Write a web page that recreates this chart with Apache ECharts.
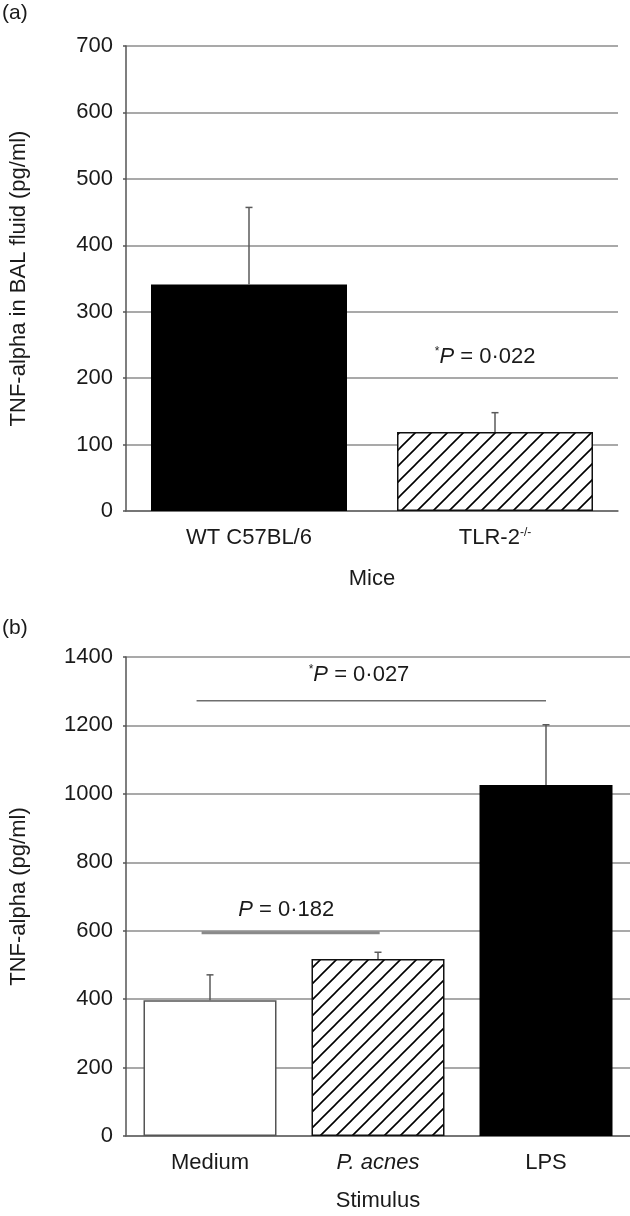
<!DOCTYPE html>
<html><head><meta charset="utf-8">
<script src="https://cdn.jsdelivr.net/npm/echarts@6/dist/echarts.min.js"></script>
<style>html,body{margin:0;padding:0;background:#fff}#c{width:630px;height:1216px}</style>
</head><body><div id="c"></div>
<script>
// ---------- data ----------
const catsA = ['WT C57BL/6', 'TLR-2-/-'];
const meansA = [341, 119];
const errsA = [116, 29];
const yTicksA = [0, 100, 200, 300, 400, 500, 600, 700];

const catsB = ['Medium', 'P. acnes', 'LPS'];
const meansB = [397, 517, 1026];
const errsB = [74, 20, 176];
const yTicksB = [0, 200, 400, 600, 800, 1000, 1200, 1400];

const sigTextA = ['*P = 0·022'];
const sigPosA = [[0.96, 232]];            // [category position, value]

const sigTextB = ['*P = 0·027', 'P = 0·182'];
const sigPosB = [[0.887, 1347], [0.454, 662]];
const sigLineB = [[-0.08, 2.0, 1272], [-0.05, 1.01, 594]]; // [from cat, to cat, value]

// ---------- styles ----------
const FONT = '"Liberation Sans", Arial, Helvetica, sans-serif';
const FS = 22;
const TXT = '#1a1a1a';
function hatch() {
  const s = 16, c = document.createElement('canvas');
  c.width = s; c.height = s;
  const g = c.getContext('2d');
  g.fillStyle = '#fff'; g.fillRect(0, 0, s, s);
  g.strokeStyle = '#000'; g.lineWidth = 1.6; g.beginPath();
  g.moveTo(-2, s + 2); g.lineTo(s + 2, -2);
  g.moveTo(-2, 2); g.lineTo(2, -2);
  g.moveTo(s - 2, s + 2); g.lineTo(s + 2, s - 2);
  g.stroke();
  return c;
}
const H = hatch();
const styleSolid = { color: '#000', borderColor: '#000', borderWidth: 0 };
const styleHatch = { color: { image: H, repeat: 'repeat' }, borderColor: '#111', borderWidth: 1.5 };
const styleWhite = { color: '#fff', borderColor: '#555', borderWidth: 1.5 };
const barStylesA = [styleSolid, styleHatch];
const barStylesB = [styleWhite, styleHatch, styleSolid];

const rich = {
  sup: { fontSize: 12, fontFamily: FONT, color: TXT, verticalAlign: 'top', lineHeight: 12, padding: [0, 0, 10, 0] },
  it: { fontSize: FS, fontFamily: FONT, fontStyle: 'italic', color: TXT },
  n: { fontSize: FS, fontFamily: FONT, color: TXT }
};
function fmtCat(v) {
  if (/-\/-$/.test(v)) return '{n|' + v.replace(/-\/-$/, '') + '}{sup|-/-}';
  if (v === 'P. acnes') return '{it|P. acnes}';
  return '{n|' + v + '}';
}
function fmtSig(t) {
  let s = t, pre = '';
  if (s[0] === '*') { pre = '{sup|*}'; s = s.slice(1); }
  return pre + '{it|P}{n|' + s.slice(1) + '}';
}

function yAxis(gi, ticks, name) {
  return {
    type: 'value', gridIndex: gi, min: ticks[0], max: ticks[ticks.length - 1],
    interval: ticks[1] - ticks[0],
    name: name, nameLocation: 'middle', nameGap: 96, nameRotate: 90,
    nameTextStyle: { fontSize: FS, fontFamily: FONT, color: TXT },
    axisLine: { show: true, lineStyle: { color: '#555', width: 1.5 } },
    axisTick: { show: true, length: 3, lineStyle: { color: '#555', width: 1.5 } },
    axisLabel: { fontSize: FS, fontFamily: FONT, color: TXT, margin: 13, formatter: v => String(v) },
    splitLine: { show: true, lineStyle: { color: '#8c8c8c', width: 1.5 } }
  };
}
function xAxis(gi, cats, name, gap) {
  return {
    type: 'category', gridIndex: gi, data: cats,
    name: name, nameLocation: 'middle', nameGap: gap,
    nameTextStyle: { fontSize: FS, fontFamily: FONT, color: TXT },
    axisLine: { show: true, lineStyle: { color: '#666', width: 1.5 } },
    axisTick: { show: false },
    axisLabel: { margin: 16, formatter: fmtCat, rich: rich, fontSize: FS, fontFamily: FONT, color: TXT }
  };
}
function errSeries(xi, means, errs) {
  return {
    type: 'custom', xAxisIndex: xi, yAxisIndex: xi, z: 5, silent: true,
    data: means.map((m, i) => [i, m, m + errs[i]]),
    renderItem: (p, api) => {
      const a = api.coord([api.value(0), api.value(1)]);
      const b = api.coord([api.value(0), api.value(2)]);
      const st = { stroke: '#5a5a5a', lineWidth: 1.5 };
      return { type: 'group', children: [
        { type: 'line', shape: { x1: a[0], y1: a[1], x2: b[0], y2: b[1] }, style: st },
        { type: 'line', shape: { x1: b[0] - 3.5, y1: b[1], x2: b[0] + 3.5, y2: b[1] }, style: st }
      ] };
    }
  };
}
function sigSeries(xi, texts, pos, lines, lineWidths) {
  return {
    type: 'custom', xAxisIndex: xi, yAxisIndex: xi, z: 6, silent: true,
    data: texts.map((t, i) => [0, pos[i][1]]),
    renderItem: (p, api) => {
      const i = p.dataIndex;
      const c0 = api.coord([0, pos[i][1]]);
      const bw = api.size([1, 0])[0];
      const kids = [{
        type: 'text',
        style: { x: c0[0] + pos[i][0] * bw, y: c0[1], text: fmtSig(texts[i]), rich: rich,
                 align: 'center', verticalAlign: 'middle', fontSize: FS, fontFamily: FONT, fill: TXT }
      }];
      if (lines) {
        const L = lines[i];
        const ly = api.coord([0, L[2]])[1];
        kids.push({ type: 'line',
          shape: { x1: c0[0] + L[0] * bw, y1: ly, x2: c0[0] + L[1] * bw, y2: ly },
          style: { stroke: lineWidths[i] > 2 ? '#8a8a8a' : '#6e6e6e', lineWidth: lineWidths[i] } });
      }
      return { type: 'group', children: kids };
    }
  };
}

const chart = echarts.init(document.getElementById('c'), null, { renderer: 'canvas' });
chart.setOption({
  backgroundColor: '#fff',
  animation: false,
  textStyle: { fontFamily: FONT },
  grid: [
    { left: 124, top: 46, width: 494, height: 465 },
    { left: 124, top: 657, width: 506, height: 479 }
  ],
  xAxis: [xAxis(0, catsA, 'Mice', 57), xAxis(1, catsB, 'Stimulus', 54)],
  yAxis: [yAxis(0, yTicksA, 'TNF-alpha in BAL fluid (pg/ml)'), yAxis(1, yTicksB, 'TNF-alpha (pg/ml)')],
  graphic: [
    { type: 'text', left: 2, top: 3, style: { text: '(a)', fontSize: 21, fontFamily: FONT, fill: TXT } },
    { type: 'text', left: 2, top: 618, style: { text: '(b)', fontSize: 21, fontFamily: FONT, fill: TXT } }
  ],
  series: [
    { type: 'bar', xAxisIndex: 0, yAxisIndex: 0, barWidth: 196, z: 3,
      data: meansA.map((v, i) => ({ value: v, itemStyle: barStylesA[i] })) },
    { type: 'bar', xAxisIndex: 1, yAxisIndex: 1, barWidth: 133, z: 3,
      data: meansB.map((v, i) => ({ value: v, itemStyle: barStylesB[i] })) },
    errSeries(0, meansA, errsA),
    errSeries(1, meansB, errsB),
    sigSeries(0, sigTextA, sigPosA, null, null),
    sigSeries(1, sigTextB, sigPosB, sigLineB, [1.5, 3])
  ]
});
</script>
</body></html>
